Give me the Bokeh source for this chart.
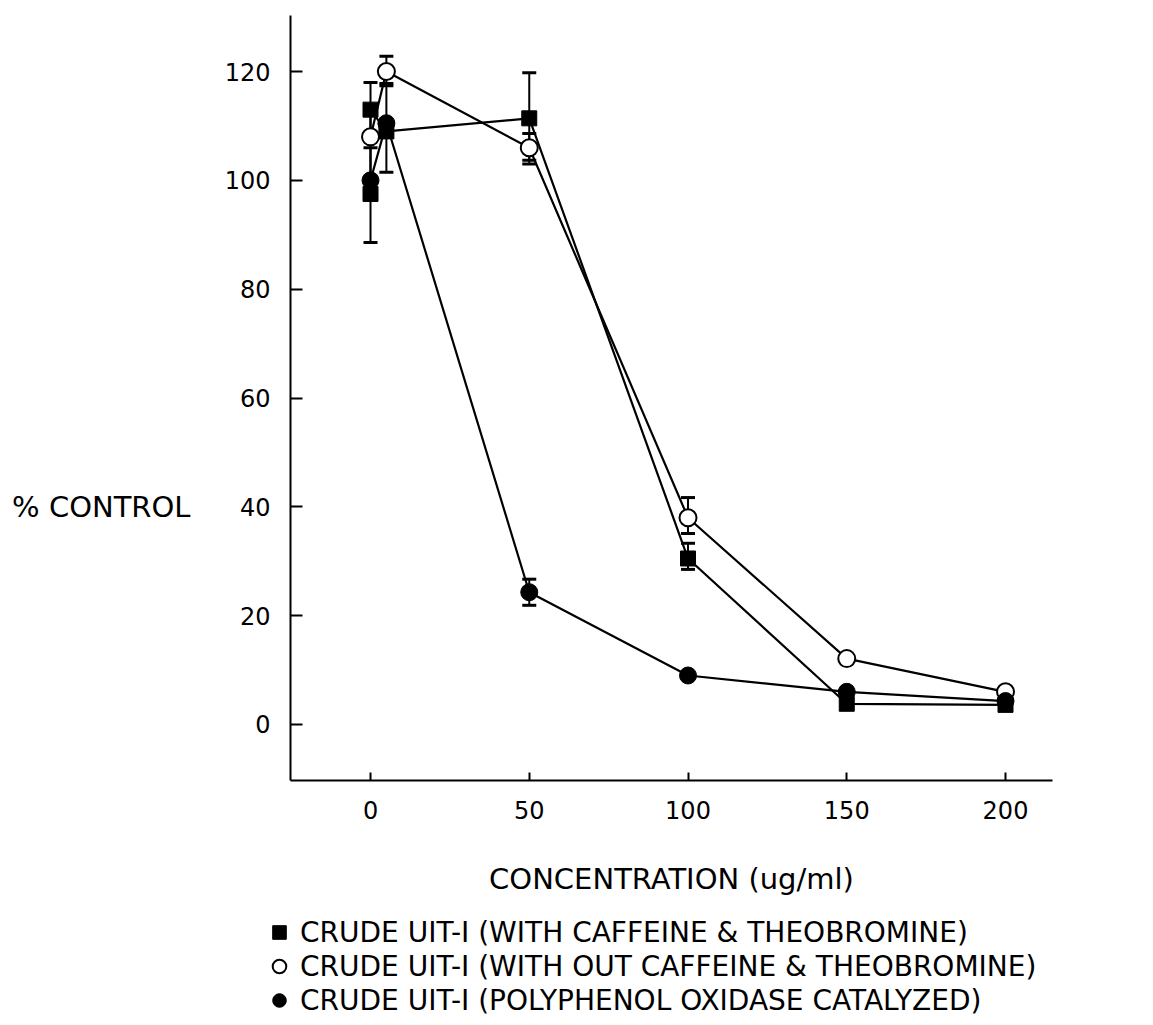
from bokeh.plotting import figure
from bokeh.layouts import column, row
from bokeh.models import (Range1d, FixedTicker, Whisker, TeeHead, ColumnDataSource,
                          Legend, LegendItem, Label)
from bokeh.embed import file_html
from bokeh.resources import INLINE

NAN = float("nan")

# ---- data ----
conc_caf = [0, 0, 5, 50, 100, 150, 200]
pct_caf = [97.5, 113, 109, 111.4, 30.5, 3.8, 3.6]
err_caf_x = [0, 0, 50, 100]
err_caf_lo = [88.6, 108, 103, 28.5]
err_caf_hi = [106, 118, 119.8, 33.3]

conc_nocaf = [0, 5, 50, 100, 150, 200]
pct_nocaf = [108, 120, 106, 38, 12.1, 6.0]
err_nocaf_x = [5, 50, 100]
err_nocaf_lo = [117.4, 103.7, 35.1]
err_nocaf_hi = [122.8, 108.6, 41.7]

conc_ppo = [0, 5, 50, 100, 150, 200]
pct_ppo = [100, 110.5, 24.3, 9.0, 6.0, 4.3]
err_ppo_x = [5, 50]
err_ppo_lo = [101.5, 21.9]
err_ppo_hi = [117.8, 26.7]

x_ticks = [0, 50, 100, 150, 200]
y_ticks = [0, 20, 40, 60, 80, 100, 120]

legend_labels = [
    "CRUDE UIT-I (WITH CAFFEINE & THEOBROMINE)",
    "CRUDE UIT-I (WITH OUT CAFFEINE & THEOBROMINE)",
    "CRUDE UIT-I (POLYPHENOL OXIDASE CATALYZED)",
]
x_title = "CONCENTRATION (ug/ml)"
y_title = "% CONTROL"

FONT = "DejaVu Sans"
yr = Range1d(-10.3, 130.3)

# ---- main plot ----
p = figure(width=937, height=900, output_backend="svg", toolbar_location=None,
           x_range=Range1d(-25.2, 214.8), y_range=yr,
           min_border_left=90, min_border_right=85, min_border_top=15, min_border_bottom=120)
p.outline_line_color = None
p.xgrid.grid_line_color = None
p.ygrid.grid_line_color = None

for ax in (p.xaxis[0], p.yaxis[0]):
    ax.axis_line_width = 2
    ax.axis_line_color = "black"
    ax.major_tick_line_width = 2
    ax.major_tick_line_color = "black"
    ax.minor_tick_line_color = None
    ax.major_tick_out = 0
    ax.major_label_text_font = FONT
    ax.major_label_text_font_size = "24px"
    ax.major_label_text_color = "black"

p.xaxis.ticker = FixedTicker(ticks=x_ticks)
p.yaxis.ticker = FixedTicker(ticks=y_ticks)
p.xaxis.major_tick_in = 8
p.yaxis.major_tick_in = 12
p.xaxis.major_label_standoff = 20
p.yaxis.major_label_standoff = 20
p.xaxis.axis_label = x_title
p.xaxis.axis_label_text_font = FONT
p.xaxis.axis_label_text_font_size = "29px"
p.xaxis.axis_label_text_font_style = "normal"
p.xaxis.axis_label_text_color = "black"
p.xaxis.axis_label_standoff = 40

def add_err(xs, lo, hi):
    src = ColumnDataSource(dict(x=xs, lo=lo, hi=hi))
    w = Whisker(base="x", lower="lo", upper="hi", source=src, line_width=2, line_color="black",
                upper_head=TeeHead(size=14, line_width=3, line_color="black"),
                lower_head=TeeHead(size=14, line_width=3, line_color="black"))
    p.add_layout(w)

p.line(conc_caf, pct_caf, line_color="black", line_width=2.2)
p.line(conc_nocaf, pct_nocaf, line_color="black", line_width=2.2)
p.line(conc_ppo, pct_ppo, line_color="black", line_width=2.2)

add_err(err_caf_x, err_caf_lo, err_caf_hi)
add_err(err_nocaf_x, err_nocaf_lo, err_nocaf_hi)
add_err(err_ppo_x, err_ppo_lo, err_ppo_hi)

p.scatter(conc_nocaf, pct_nocaf, marker="circle", size=17, fill_color="white",
          line_color="black", line_width=2)
p.scatter(conc_caf, pct_caf, marker="square", size=15, fill_color="black", line_color="black")
p.scatter(conc_ppo, pct_ppo, marker="circle", size=17, fill_color="black", line_color="black")

# ---- y title panel (shares the y range) ----
yl = figure(width=200, height=900, output_backend="svg", toolbar_location=None,
            x_range=Range1d(0, 1), y_range=yr, x_axis_type=None, y_axis_type=None,
            min_border_left=0, min_border_right=0, min_border_top=15, min_border_bottom=120)
yl.outline_line_color = None
yl.add_layout(Label(x=1, y=40, x_offset=-10, text=y_title, text_align="right",
                    text_baseline="middle", text_font=FONT, text_font_size="29px",
                    text_color="black"))

# ---- legend panel (key glyphs only, no data points) ----
lg = figure(width=1137, height=117, output_backend="svg", toolbar_location=None,
            x_range=Range1d(0, 1), y_range=Range1d(0, 1), x_axis_type=None, y_axis_type=None,
            min_border=0)
lg.outline_line_color = None
k1 = lg.scatter([NAN], [NAN], marker="square", size=16, fill_color="black", line_color="black")
k2 = lg.scatter([NAN], [NAN], marker="circle", size=13, fill_color="white", line_color="black",
                line_width=2)
k3 = lg.scatter([NAN], [NAN], marker="circle", size=15, fill_color="black", line_color="black")
legend = Legend(items=[LegendItem(label=legend_labels[0], renderers=[k1]),
                       LegendItem(label=legend_labels[1], renderers=[k2]),
                       LegendItem(label=legend_labels[2], renderers=[k3])],
                location=(259, 0), orientation="vertical")
legend.border_line_color = None
legend.background_fill_alpha = 0
legend.label_text_font = FONT
legend.label_text_font_size = "28px"
legend.label_text_color = "black"
legend.label_height = 30
legend.glyph_height = 34
legend.glyph_width = 40
legend.label_standoff = 1
legend.spacing = 0
legend.padding = 0
legend.margin = 0
lg.add_layout(legend)

layout = column(row(yl, p), lg)
open("out.html", "w").write(file_html(layout, INLINE))
